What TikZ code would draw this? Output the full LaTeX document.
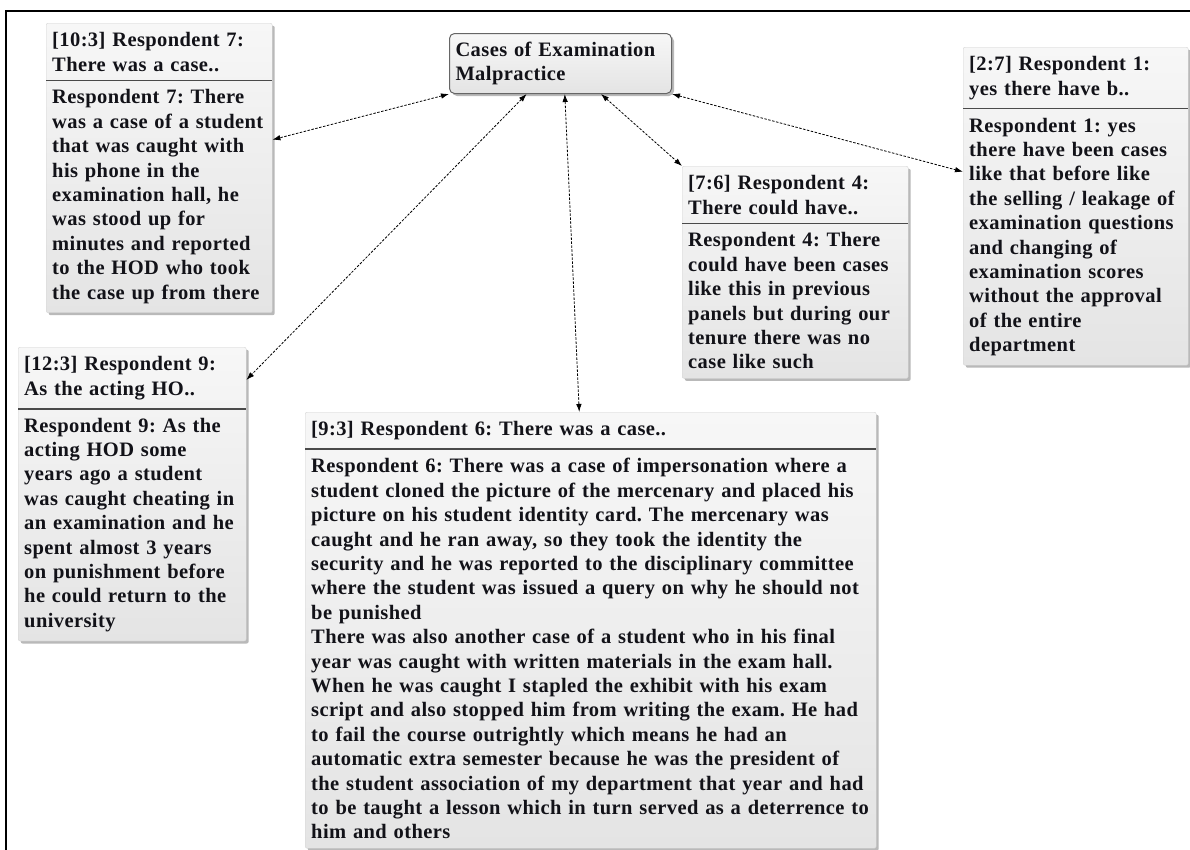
\documentclass[tikz,border=0pt]{standalone}
\usepackage{fontspec}
\setmainfont[LetterSpace=2]{Liberation Serif}
\usetikzlibrary{shapes.multipart,shadows,arrows.meta}
\definecolor{boxtop}{HTML}{F7F7F7}
\definecolor{boxbottom}{HTML}{E4E4E4}
\definecolor{rimgray}{HTML}{D4D4D4}
\definecolor{splitgray}{HTML}{4A4A4A}
\definecolor{inkdark}{HTML}{121218}
\begin{document}
\begin{tikzpicture}[x=1bp, y=-1bp,
		boxfont/.style={font=\fontsize{20.5bp}{24.4bp}\selectfont\bfseries\frenchspacing, text=inkdark},
		boxshade/.style={top color=boxtop, bottom color=boxbottom,
			drop shadow={shadow xshift=2.5bp, shadow yshift=-2.5bp, fill=black!55}},
		resp/.style={rectangle split, rectangle split parts=2, rectangle split draw splits=false,
			anchor=north west, align=left, draw=rimgray, rounded corners=2bp, boxshade, boxfont,
			inner xsep=6bp, inner ysep=9bp},
		hub/.style={rectangle, draw=black!60, line width=1bp, rounded corners=5bp, boxshade, boxfont,
			anchor=north west, align=left, text width=210bp, minimum height=60bp, inner xsep=6bp},
		splitline/.style={draw=splitgray, line width=1.5bp}]
			\useasboundingbox (0,0) rectangle (1190,850);
			\draw[line width=2bp] (6,850) -- (6,11) -- (1190,11);
			\node[hub] (ctr) at (449,33) {Cases of Examination\\Malpractice};
			\begin{scope}[every node/.style={resp}]
				\node[text width=214bp] (r7) at (46,23) {[10:3] Respondent 7:\\There was a case..
					\nodepart{two}Respondent 7: There\\was a case of a student\\that was caught with\\his phone in the\\examination hall, he\\was stood up for\\minutes and reported\\to the HOD who took\\the case up from there};
				\node[text width=213bp] (r1) at (963,47) {[2:7] Respondent 1:\\yes there have b..
					\nodepart{two}Respondent 1: yes\\there have been cases\\like that before like\\the selling / leakage of\\examination questions\\and changing of\\examination scores\\without the approval\\of the entire\\department};
				\node[text width=214bp] (r4) at (682,166) {[7:6] Respondent 4:\\There could have..
					\nodepart{two}Respondent 4: There\\could have been cases\\like this in previous\\panels but during our\\tenure there was no\\case like such};
				\node[text width=216bp] (r9) at (18,347) {[12:3] Respondent 9:\\As the acting HO..
					\nodepart{two}Respondent 9: As the\\acting HOD some\\years ago a student\\was caught cheating in\\an examination and he\\spent almost 3 years\\on punishment before\\he could return to the\\university};
				\node[text width=559bp] (r6) at (305,412) {[9:3] Respondent 6: There was a case..
					\nodepart{two}Respondent 6: There was a case of impersonation where a\\student cloned the picture of the mercenary and placed his\\picture on his student identity card. The mercenary was\\caught and he ran away, so they took the identity the\\security and he was reported to the disciplinary committee\\where the student was issued a query on why he should not\\be punished\\There was also another case of a student who in his final\\year was caught with written materials in the exam hall.\\When he was caught I stapled the exhibit with his exam\\script and also stopped him from writing the exam. He had\\to fail the course outrightly which means he had an\\automatic extra semester because he was the president of\\the student association of my department that year and had\\to be taught a lesson which in turn served as a deterrence to\\him and others};
			\end{scope}
			\foreach \r in {r7,r1,r4,r9,r6}
				\draw[splitline] (\r.text split west) -- (\r.text split east);
			\begin{scope}[every edge/.style={draw=black, line width=0.8bp, dash pattern=on 2.5bp off 1.5bp, <->, >={Latex[length=8bp,width=5.5bp]}}]
				\path (ctr.south west) edge (r7.14);
				\path (ctr.222) edge (r9.45);
				\path (ctr.278) edge (r6.93);
				\path (ctr.323) edge (r4.north west);
				\path (ctr.south east) edge (r1.163);
			\end{scope}
		\end{tikzpicture}
\end{document}
